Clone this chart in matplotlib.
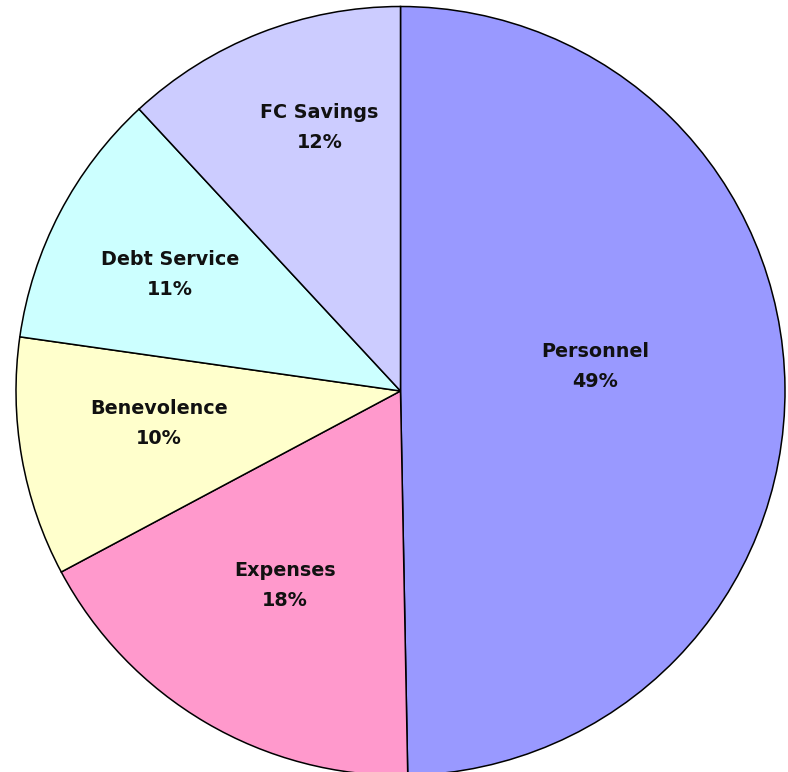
import matplotlib
matplotlib.use("Agg")
import matplotlib.pyplot as plt
import numpy as np

categories = ["Personnel", "Expenses", "Benevolence", "Debt Service", "FC Savings"]
shares = [49.7, 17.5, 10.05, 10.85, 11.9]
pct_labels = ["49%", "18%", "10%", "11%", "12%"]
colors = ["#9999FF", "#FF99CC", "#FFFFCC", "#CCFFFF", "#CCCCFF"]
# label block centres, as fractions of the radius from the pie centre
label_pos = [(0.506, 0.068), (-0.300, -0.502), (-0.628, -0.081),
             (-0.599, 0.307), (-0.211, 0.690)]

fig = plt.figure(figsize=(7.88, 7.72), dpi=100)
ax = fig.add_axes([0, 0, 1, 1])
cx, cy, r = 400.5, 381.0, 384.5
wedges, _ = ax.pie(shares, colors=colors, startangle=90, counterclock=False,
                   center=(cx, cy), radius=r,
                   wedgeprops=dict(edgecolor="black", linewidth=1.1))
ax.set_xlim(0, 788)
ax.set_ylim(0, 772)
ax.set_aspect("equal")
ax.axis("off")

font = dict(fontsize=13.8, fontweight="bold", family="DejaVu Sans", color="#111111")
for name, pct, (fx, fy) in zip(categories, pct_labels, label_pos):
    x = cx + fx * r
    y = cy + fy * r
    ax.text(x, y + 7.7, name, ha="center", va="baseline", **font)
    ax.text(x, y - 22.0, pct, ha="center", va="baseline", **font)

fig.savefig("out.png", dpi=100)
